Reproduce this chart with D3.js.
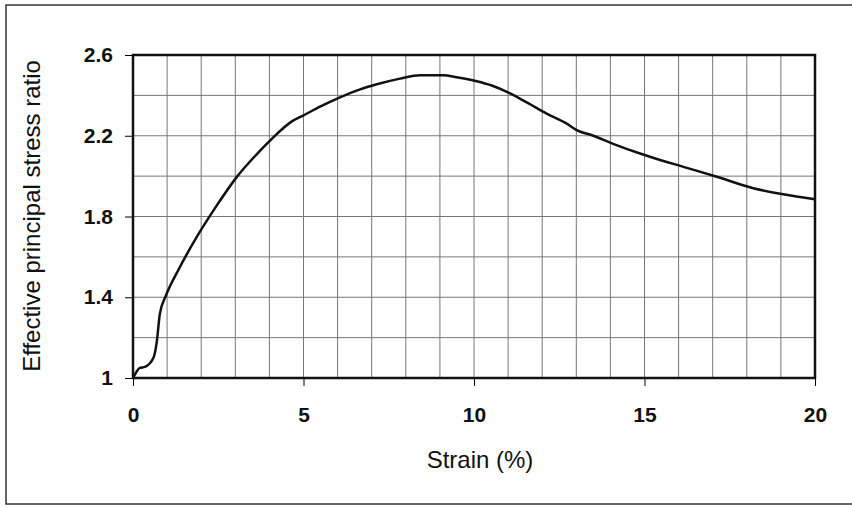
<!DOCTYPE html>
<html>
<head>
<meta charset="utf-8">
<script src="https://cdn.jsdelivr.net/npm/d3@7"></script>
<style>
  body { margin: 0; background: #fff; }
  svg { display: block; }
  .grid line { stroke: #777; stroke-width: 1; }
  .axis path { display: none; }
  .axis line { stroke: #000; stroke-width: 1; }
  .axis text { font-family: Arial, "Liberation Sans", sans-serif; font-weight: bold; font-size: 21px; fill: #111; }
  .title { font-family: Arial, "Liberation Sans", sans-serif; font-size: 24px; fill: #111; }
</style>
</head>
<body>
<svg id="chart" width="852" height="508"></svg>
<script>
// Strain (%) vs effective principal stress ratio
const strain = [0, 0.1, 0.2, 0.35, 0.6, 0.69, 0.79, 0.97, 1.33, 1.91, 2.4, 3.04, 3.72, 4.07, 4.65, 4.99,
    5.5, 6.07, 6.66, 7.15, 7.83, 8.42, 9.1, 9.49, 10.08, 10.5, 11.06, 11.6, 12.13, 12.72, 13.01, 13.5,
    14.08, 14.87, 15.16, 16.14, 17.12, 18.19, 19.07, 20];
const ratio = [1, 1.03, 1.05, 1.055, 1.10, 1.17, 1.32, 1.41, 1.535, 1.71, 1.84, 1.995, 2.125, 2.185, 2.27, 2.30,
    2.345, 2.39, 2.43, 2.455, 2.483, 2.50, 2.50, 2.49, 2.47, 2.45, 2.41, 2.36, 2.31, 2.26, 2.228, 2.20,
    2.16, 2.112, 2.096, 2.046, 1.997, 1.94, 1.91, 1.885];

const xTicks = [0, 5, 10, 15, 20];
const yTicks = [1, 1.4, 1.8, 2.2, 2.6];
const xGrid = d3.range(0, 21, 1);
const yGrid = [1, 1.2, 1.4, 1.6, 1.8, 2.0, 2.2, 2.4, 2.6];

const svg = d3.select("#chart");
const plotL = 133, plotR = 815, plotT = 55, plotB = 378;

const x = d3.scaleLinear().domain([0, 20]).range([plotL, plotR]);
const y = d3.scaleLinear().domain([1, 2.6]).range([plotB, plotT]);

// outer frame of the figure
svg.append("rect")
    .attr("x", 6).attr("y", 5)
    .attr("width", 860).attr("height", 499)
    .attr("fill", "none")
    .attr("stroke", "#333")
    .attr("stroke-width", 1.5);

// grid lines
const grid = svg.append("g").attr("class", "grid");
grid.selectAll(".vx")
    .data(xGrid)
    .enter().append("line")
    .attr("x1", d => x(d)).attr("x2", d => x(d))
    .attr("y1", plotT).attr("y2", plotB);
grid.selectAll(".hy")
    .data(yGrid)
    .enter().append("line")
    .attr("x1", plotL).attr("x2", plotR)
    .attr("y1", d => y(d)).attr("y2", d => y(d));

// axes (ticks outside, labels bold)
svg.append("g")
    .attr("class", "axis")
    .attr("transform", `translate(${plotL},0)`)
    .call(d3.axisLeft(y).tickValues(yTicks).tickSize(8).tickPadding(12).tickFormat(d3.format("~g")));

svg.append("g")
    .attr("class", "axis")
    .attr("transform", `translate(0,${plotB})`)
    .call(d3.axisBottom(x).tickValues(xTicks).tickSize(8).tickPadding(21));

// plot border
svg.append("rect")
    .attr("x", plotL).attr("y", plotT)
    .attr("width", plotR - plotL).attr("height", plotB - plotT)
    .attr("fill", "none")
    .attr("stroke", "#111")
    .attr("stroke-width", 2.5);

// the curve
const line = d3.line()
    .x((d, i) => x(strain[i]))
    .y(d => y(d))
    .curve(d3.curveMonotoneX);

svg.append("path")
    .datum(ratio)
    .attr("d", line)
    .attr("fill", "none")
    .attr("stroke", "#111")
    .attr("stroke-width", 2.5)
    .attr("stroke-linejoin", "round");

// axis titles
svg.append("text")
    .attr("class", "title")
    .attr("x", 480).attr("y", 468)
    .attr("text-anchor", "middle")
    .text("Strain (%)");

svg.append("text")
    .attr("class", "title")
    .attr("transform", "translate(40,216) rotate(-90)")
    .attr("text-anchor", "middle")
    .text("Effective principal stress ratio");
</script>
</body>
</html>
